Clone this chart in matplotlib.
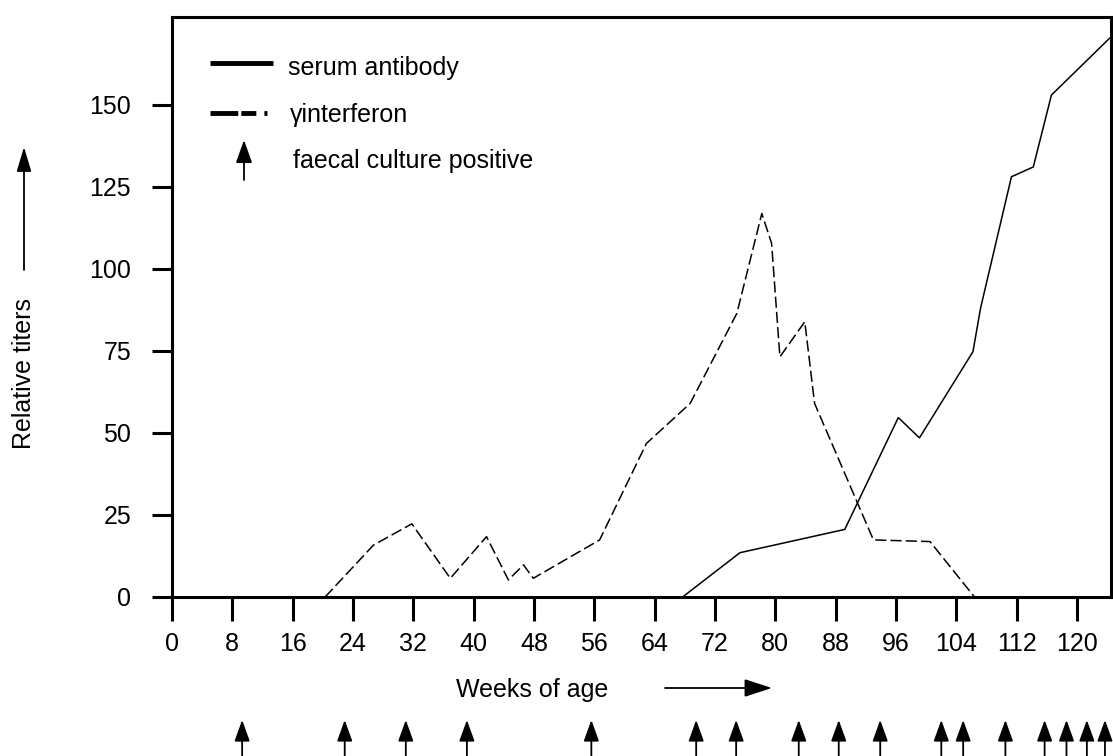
import matplotlib
matplotlib.use("Agg")
import matplotlib.pyplot as plt
from matplotlib.transforms import blended_transform_factory

plt.rcParams['font.family'] = ['Liberation Sans', 'DejaVu Sans']
plt.rcParams['lines.scale_dashes'] = False

# ---- data ----
serum_weeks = [67.7, 75.3, 89.2, 96.3, 99.1, 106.2, 107.2, 111.3, 114.2, 116.6, 124.3]
serum_vals = [0, 13.5, 20.6, 54.7, 48.5, 74.8, 88.0, 128.1, 131.1, 153.0, 170.3]

ifn_weeks = [20.3, 26.7, 31.8, 36.9, 41.7, 44.6, 46.6, 47.9, 56.7, 62.9, 68.7,
             74.9, 78.2, 79.5, 80.6, 83.9, 85.2, 93.0, 100.5, 106.4]
ifn_vals = [0, 15.8, 22.3, 5.7, 18.4, 5.2, 9.8, 5.7, 17.4, 46.8, 59.0,
            86.5, 116.9, 107.8, 73.2, 83.9, 59.0, 17.4, 16.9, 0]

faecal_positive_weeks = [9.3, 22.9, 31.0, 39.1, 55.6, 69.5, 74.8, 83.1, 88.4, 93.9,
                         102.0, 104.9, 110.5, 115.7, 118.6, 121.3, 123.7]

x_ticks = list(range(0, 121, 8))
y_ticks = [0, 25, 50, 75, 100, 125, 150]

legend_labels = ['serum antibody', 'γinterferon', 'faecal culture positive']
x_label = 'Weeks of age'
y_label = 'Relative titers'

# ---- figure ----
W, H = 1113, 756
fig = plt.figure(figsize=(W / 100, H / 100), dpi=100)
ax = fig.add_axes([172 / W, 1 - 597 / H, (1111 - 172) / W, (597 - 17) / H])

def fx(px):
    return px / W

def fy(py):
    return 1 - py / H

ax.plot(serum_weeks, serum_vals, color='black', lw=1.1, solid_joinstyle='miter')
ax.plot(ifn_weeks, ifn_vals, color='black', lw=1.1, dashes=(8, 3))

ax.set_xlim(0, 124.5)
ax.set_ylim(0, 176.8)
ax.set_xticks(x_ticks)
ax.set_yticks(y_ticks)
ax.tick_params(axis='x', direction='out', length=17.3, width=2.2, pad=8,
               labelsize=18, colors='black')
ax.tick_params(axis='y', direction='out', length=14.4, width=2.2, pad=15,
               labelsize=18, colors='black')
for s in ax.spines.values():
    s.set_linewidth(2.2)
    s.set_color('black')

# legend (manual)
ax.plot([fx(210), fx(273)], [fy(63), fy(63)], transform=fig.transFigure,
        color='black', lw=3.5, solid_capstyle='butt', clip_on=False)
ax.plot([fx(210), fx(268.5)], [fy(113), fy(113)], transform=fig.transFigure,
        color='black', lw=3.5, dash_capstyle='butt', clip_on=False,
        dashes=(20, 2.2, 10.8, 5.8, 2.2, 20))
fig.text(fx(288), fy(75), legend_labels[0], fontsize=18, va='baseline', ha='left')
fig.text(fx(290), fy(121.7), legend_labels[1], fontsize=18, va='baseline', ha='left')
fig.text(fx(293), fy(168.3), legend_labels[2], fontsize=18, va='baseline', ha='left')

def arrow(x0, y0, x1, y1, hl=1.4, hw=0.5, lw=1.3, xycoords=fig.transFigure):
    ax.annotate('', xy=(x1, y1), xytext=(x0, y0), xycoords=xycoords,
                textcoords=xycoords, annotation_clip=False,
                arrowprops=dict(arrowstyle=f'-|>,head_length={hl},head_width={hw}',
                                color='black', lw=lw, shrinkA=0, shrinkB=0,
                                mutation_scale=10))

arrow(fx(244), fy(180), fx(244), fy(140))

# axis labels
fig.text(fx(532), fy(690), x_label, fontsize=18, ha='center', va='center')
arrow(fx(665), fy(688), fx(772), fy(688), hl=1.7, hw=0.55)
fig.text(fx(24), fy(374), y_label, fontsize=18, rotation=90, ha='center', va='center')
arrow(fx(24), fy(270), fx(24), fy(147), hl=1.5, hw=0.45)

# faecal culture positive arrows beneath the axis
trans = blended_transform_factory(ax.transData, fig.transFigure)
for w in faecal_positive_weeks:
    arrow(w, 0.0, w, fy(720), hl=1.3, hw=0.47, xycoords=trans)

fig.savefig('out.png', dpi=100)
